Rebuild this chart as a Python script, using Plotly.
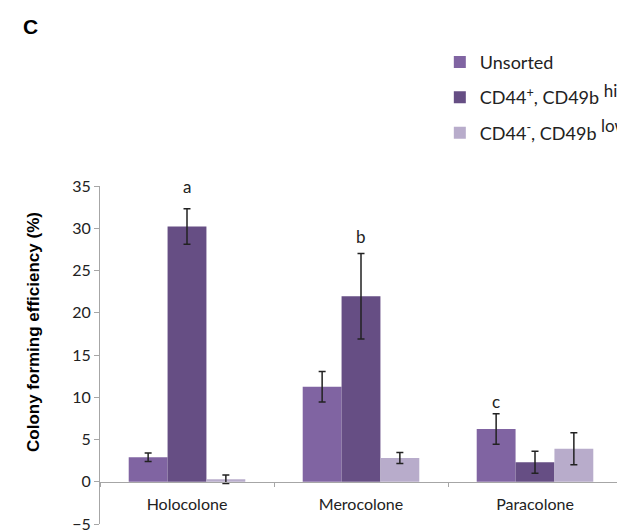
import plotly.graph_objects as go

categories = ["Holocolone", "Merocolone", "Paracolone"]
series_names = ["Unsorted",
                "CD44<sup>+</sup>, CD49b <sup><span style='font-size:17px'>hi</span></sup>",
                "CD44<sup>-</sup>, CD49b <sup><span style='font-size:17px'>low</span></sup>"]
unsorted = [2.9, 11.25, 6.25]
unsorted_err = [0.5, 1.8, 1.8]
cd44_hi = [30.2, 21.95, 2.3]
cd44_hi_err = [2.1, 5.05, 1.3]
cd44_low = [0.3, 2.8, 3.9]
cd44_low_err = [0.5, 0.65, 1.9]
sig_letters = ["a", "b", "c"]
sig_positions = [("Holocolone", 35.0), ("Merocolone", 29.0), ("Paracolone", 9.5)]
y_ticks = [-5, 0, 5, 10, 15, 20, 25, 30, 35]

colors = ["#8064A2", "#664E84", "#B8ACCB"]
FONT = "Lato"

fig = go.Figure()
for name, vals, errs, col in zip(series_names, [unsorted, cd44_hi, cd44_low],
                                 [unsorted_err, cd44_hi_err, cd44_low_err], colors):
    fig.add_trace(go.Bar(
        x=categories, y=vals, name=name, marker=dict(color=col, line=dict(width=0)),
        error_y=dict(type="data", array=errs, color="#222222", thickness=1.5, width=3.5),
        legendgroup=name,
    ))

offsets = [0, 0, -1]
anns = []
for letter, (cat, yv), off in zip(sig_letters, sig_positions, offsets):
    anns.append(go.layout.Annotation(x=cat, y=yv, text=letter, showarrow=False, xref="x", yref="y",
                                     xshift=off * 39, font=dict(family=FONT, size=17, color="#222")))

anns.append(go.layout.Annotation(x=-70/522, y=(524-27)/338, xref="paper", yref="paper",
                                 xanchor="center", yanchor="middle",
                                 text="<b>C</b>", showarrow=False,
                                 font=dict(family="Liberation Sans", size=21, color="black")))
anns.append(go.layout.Annotation(x=-67/522, y=(524-332)/338, xref="paper", yref="paper",
                                 xanchor="center", yanchor="middle",
                                 text="<b>Colony forming efficiency (%)</b>", textangle=-90,
                                 showarrow=False,
                                 font=dict(family="Liberation Sans", size=17, color="black")))

fig.update_layout(
    width=617, height=522,
    margin=dict(l=92, r=3, t=178, b=6, autoexpand=False),
    paper_bgcolor="white", plot_bgcolor="white",
    barmode="group", bargap=0.33, bargroupgap=0,
    font=dict(family=FONT, size=16, color="#222"),
    showlegend=True,
    annotations=anns,
    legend=dict(x=0.651, y=1.421, xanchor="left", yanchor="top",
                font=dict(family=FONT, size=18, color="#222"),
                tracegroupgap=9, itemwidth=30, bgcolor="rgba(0,0,0,0)"),
    xaxis=dict(anchor="free", position=0.125, showline=True, linecolor="#A6A6A6", linewidth=1,
               ticks="outside", tickson="boundaries", ticklen=4, tickcolor="#A6A6A6",
               showgrid=False, automargin=False, ticklabelstandoff=8,
               tickfont=dict(family=FONT, size=16, color="#222")),
    yaxis=dict(range=[-5, 35], tickvals=y_ticks, showline=True, linecolor="#A6A6A6", linewidth=1,
               ticks="outside", ticklen=5, tickcolor="#A6A6A6", showgrid=False, zeroline=False,
               automargin=False, ticklabeloverflow="allow",
               tickfont=dict(family=FONT, size=16, color="#222")),
)

fig.write_html("out.html")
